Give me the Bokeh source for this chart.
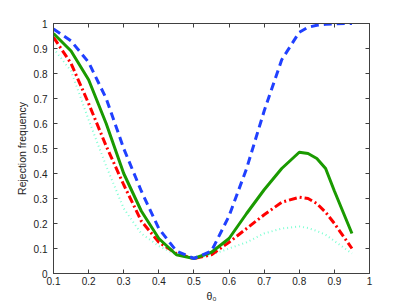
from bokeh.plotting import figure
from bokeh.models import LinearAxis, FixedTicker, Range1d
from bokeh.embed import file_html
from bokeh.resources import INLINE

theta = [0.1, 0.15, 0.2, 0.25, 0.3, 0.35, 0.4, 0.45, 0.5, 0.55, 0.6, 0.65, 0.7, 0.75, 0.8, 0.825, 0.85, 0.875, 0.9, 0.95]
blue = [0.978, 0.93, 0.845, 0.70, 0.50, 0.33, 0.18, 0.09, 0.06, 0.09, 0.23, 0.42, 0.65, 0.855, 0.965, 0.985, 0.993, 0.997, 0.999, 1.0]
green = [0.96, 0.89, 0.775, 0.60, 0.40, 0.25, 0.14, 0.075, 0.06, 0.085, 0.14, 0.24, 0.335, 0.42, 0.485, 0.48, 0.46, 0.42, 0.33, 0.16]
red = [0.945, 0.84, 0.68, 0.51, 0.355, 0.21, 0.125, 0.08, 0.06, 0.075, 0.125, 0.18, 0.235, 0.285, 0.305, 0.30, 0.28, 0.245, 0.20, 0.10]
cyan = [0.90, 0.81, 0.615, 0.43, 0.26, 0.16, 0.11, 0.075, 0.06, 0.075, 0.10, 0.125, 0.16, 0.18, 0.188, 0.182, 0.17, 0.155, 0.13, 0.08]

x_ticks = [0.1, 0.2, 0.3, 0.4, 0.5, 0.6, 0.7, 0.8, 0.9, 1.0]
x_labels = ["0.1", "0.2", "0.3", "0.4", "0.5", "0.6", "0.7", "0.8", "0.9", "1"]
y_ticks = [0.0, 0.1, 0.2, 0.3, 0.4, 0.5, 0.6, 0.7, 0.8, 0.9, 1.0]
y_labels = ["0", "0.1", "0.2", "0.3", "0.4", "0.5", "0.6", "0.7", "0.8", "0.9", "1"]

FONT = "Liberation Sans"
AX = "#404040"

p = figure(frame_width=316, frame_height=250, output_backend="svg", toolbar_location=None,
           x_range=Range1d(0.1, 1.0), y_range=Range1d(0.0, 1.0),
           x_axis_location=None, y_axis_location=None,
           min_border_left=53, min_border_right=30, min_border_top=23, min_border_bottom=26)
p.grid.visible = False
p.outline_line_color = AX
p.background_fill_color = "white"
p.border_fill_color = "white"


def style(ax):
    ax.axis_line_color = AX
    ax.major_tick_line_color = AX
    ax.major_tick_in = 4
    ax.major_tick_out = 0
    ax.minor_tick_line_color = None
    ax.major_label_text_font = FONT
    ax.major_label_text_color = "#222222"
    ax.major_label_text_font_size = "10px"
    ax.axis_label_text_font = FONT
    ax.axis_label_text_font_style = "normal"
    ax.axis_label_text_font_size = "10.5px"
    ax.axis_label_text_color = "#222222"


xb = LinearAxis(ticker=FixedTicker(ticks=x_ticks),
                major_label_overrides=dict(zip(x_ticks, x_labels)),
                axis_label="θ₀", major_label_standoff=3, axis_label_standoff=2)
style(xb)
p.add_layout(xb, "below")

yl = LinearAxis(ticker=FixedTicker(ticks=y_ticks),
                major_label_overrides=dict(zip(y_ticks, y_labels)),
                axis_label="Rejection frequency", major_label_standoff=6, axis_label_standoff=3)
style(yl)
p.add_layout(yl, "left")

xt = LinearAxis(ticker=FixedTicker(ticks=x_ticks), major_label_standoff=0,
                major_label_overrides={t: "" for t in x_ticks})
style(xt)
p.add_layout(xt, "above")

yr = LinearAxis(ticker=FixedTicker(ticks=y_ticks), major_label_standoff=0,
                major_label_overrides={t: "" for t in y_ticks})
style(yr)
p.add_layout(yr, "right")

p.line(theta, cyan, line_color="#80ffd4", line_width=2, line_dash="1 3")
p.line(theta, red, line_color="#ff0000", line_width=3, line_dash="8 3 2 3")
p.line(theta, green, line_color="#1a9a00", line_width=3)
p.line(theta, blue, line_color="#2040ff", line_width=3, line_dash="8 5")

open("out.html", "w").write(file_html(p, INLINE))
